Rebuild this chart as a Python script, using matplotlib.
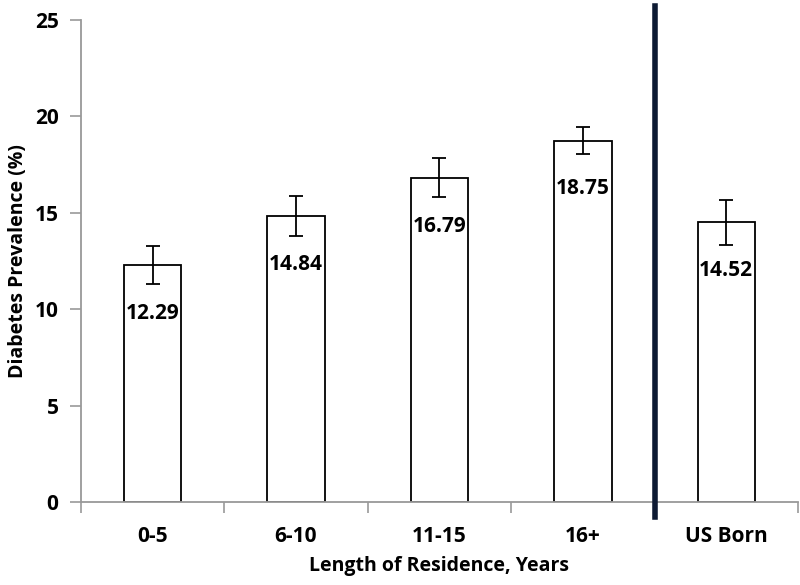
import matplotlib.pyplot as plt
import numpy as np

# diabetes prevalence by length of residence
categories = ["0-5", "6-10", "11-15", "16+", "US Born"]
prevalence = [12.29, 14.84, 16.79, 18.75, 14.52]
err_low = [0.98, 1.06, 0.98, 0.68, 1.18]
err_high = [0.99, 1.05, 1.03, 0.70, 1.15]

plt.rcParams['font.family'] = ['Open Sans', 'DejaVu Sans']

fig = plt.figure(figsize=(8, 5.85), dpi=100)
ax = fig.add_axes([0.101, 0.1419, 0.8965, 0.8239])

x = np.arange(len(categories))
ax.bar(x, prevalence, width=0.4, color="white", edgecolor="black", linewidth=1.3, zorder=2)
ax.errorbar(x, prevalence, yerr=[err_low, err_high], fmt="none", ecolor="black",
            elinewidth=1.3, capsize=5, capthick=1.3, zorder=3)

for xi, v in zip(x, prevalence):
    ax.text(xi, v - 2.5, f"{v:.2f}", ha="center", va="center", fontsize=15,
            fontweight="bold", zorder=4)

# divider between immigrants and US born
ax.axvline(3.5, ymin=-0.031, ymax=1.03, color="#0d1a33", linewidth=4, clip_on=False, zorder=5)

ax.set_xlim(-0.5, 4.5)
ax.set_ylim(0, 25)
ax.set_yticks([0, 5, 10, 15, 20, 25])
ax.set_xticks(np.arange(-0.5, 5.0, 1.0), minor=False)
ax.set_xticklabels([])
ax.set_xticks(x, minor=True)
ax.set_xticklabels(categories, minor=True)
ax.tick_params(axis="x", which="minor", length=0, pad=17, labelsize=15)
ax.tick_params(axis="x", which="major", length=8, color="#999999", width=1.2)
ax.tick_params(axis="y", length=8, color="#999999", width=1.2, labelsize=15, pad=8)
for lab in ax.get_xticklabels(minor=True) + ax.get_yticklabels():
    lab.set_fontweight("bold")

for s in ["top", "right"]:
    ax.spines[s].set_visible(False)
for s in ["left", "bottom"]:
    ax.spines[s].set_color("#999999")
    ax.spines[s].set_linewidth(1.3)

ax.set_xlabel("Length of Residence, Years", fontsize=14, fontweight="bold", labelpad=7)
ax.set_ylabel("Diabetes Prevalence (%)", fontsize=14, fontweight="bold", labelpad=5)

fig.savefig("out.png", dpi=100)
